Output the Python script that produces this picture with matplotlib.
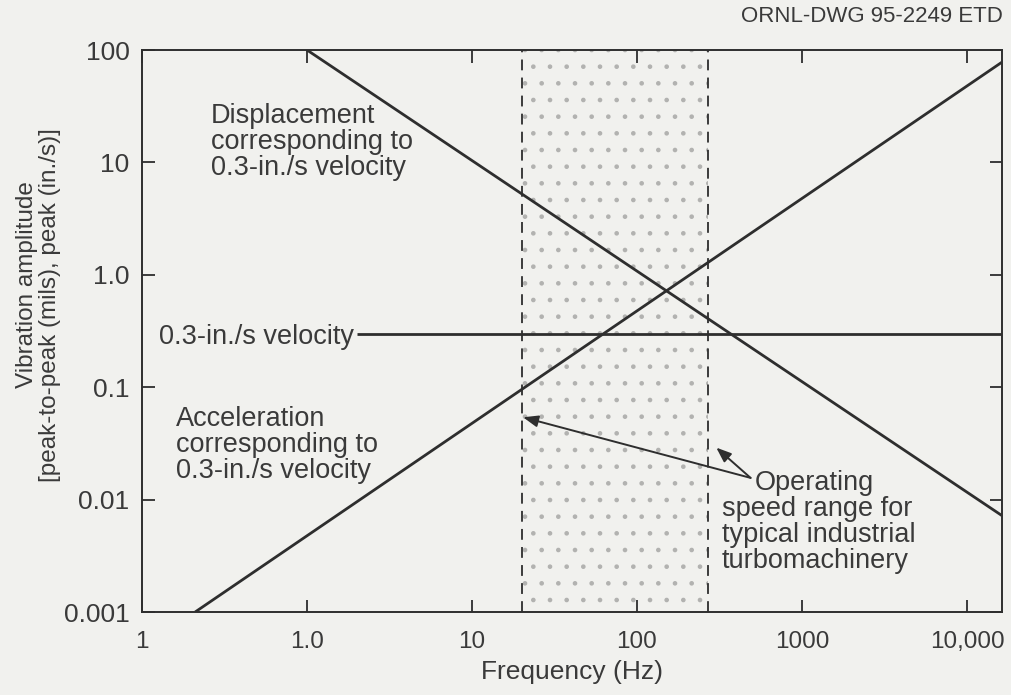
import matplotlib
matplotlib.use("Agg")
import matplotlib.pyplot as plt
from matplotlib.ticker import FixedLocator, FixedFormatter, NullLocator

plt.rcParams['font.family'] = ['Liberation Sans', 'DejaVu Sans']
plt.rcParams['hatch.linewidth'] = 0.9

# Criterion lines: frequency (Hz) endpoints and amplitudes
disp_freq = [1.0, 16300]
disp_amp = [100, 0.0072]
accel_freq = [0.21, 16300]
accel_amp = [0.001, 78]
vel_freq = [2.0, 16300]
vel_amp = [0.3, 0.3]

# Operating speed range of typical industrial turbomachinery (Hz)
speed_range = [20, 270]

x_ticks = [0.1, 1, 10, 100, 1000, 10000]
x_labels = ["1", "1.0", "10", "100", "1000", "10,000"]
y_ticks = [0.001, 0.01, 0.1, 1, 10, 100]
y_labels = ["0.001", "0.01", "0.1", "1.0", "10", "100"]

W, H = 1012, 695
BG = "#f1f1ee"
INK = "#2e2e2e"
TXT = "#3a3a3a"


def fx(px):
    return px / W


def fy(py):
    return 1 - py / H


fig = plt.figure(figsize=(W / 100, H / 100), dpi=100, facecolor=BG)
ax = fig.add_axes([fx(142), fy(612), fx(1002) - fx(142), fy(50) - fy(612)])
ax.set_facecolor(BG)
ax.set_xscale("log")
ax.set_yscale("log")
ax.set_xlim(0.1, 16300)
ax.set_ylim(0.001, 100)

# stippled operating band with dashed boundaries
ax.axvspan(speed_range[0], speed_range[1], facecolor="none", edgecolor="#b2b2b0",
           hatch=".", linewidth=0, zorder=1)
for f in speed_range:
    ax.axvline(f, color=INK, lw=1.3, ls=(0, (6, 4)), zorder=2)

line_kw = dict(color=INK, lw=2.0, solid_capstyle="butt", zorder=3)
ax.plot(disp_freq, disp_amp, **line_kw)
ax.plot(accel_freq, accel_amp, **line_kw)
ax.plot(vel_freq, vel_amp, **line_kw)

# axes styling
for s in ax.spines.values():
    s.set_color(INK)
    s.set_linewidth(1.4)
ax.xaxis.set_major_locator(FixedLocator(x_ticks))
ax.xaxis.set_major_formatter(FixedFormatter(x_labels))
ax.yaxis.set_major_locator(FixedLocator(y_ticks))
ax.yaxis.set_major_formatter(FixedFormatter(y_labels))
ax.xaxis.set_minor_locator(NullLocator())
ax.yaxis.set_minor_locator(NullLocator())
ax.tick_params(which="major", direction="in", top=True, right=True, length=9,
               width=1.3, color=INK, labelcolor=TXT)
ax.tick_params(axis="x", labelsize=17.5, pad=14)
ax.tick_params(axis="y", labelsize=19, pad=9)

ax.set_xlabel("Frequency (Hz)", fontsize=19, color=TXT, labelpad=5)

# two-line y axis title
fig.text(fx(27), fy(285), "Vibration amplitude", rotation=90, ha="center",
         va="center", fontsize=17.5, color=TXT)
fig.text(fx(50), fy(305), "[peak-to-peak (mils), peak (in./s)]", rotation=90,
         ha="center", va="center", fontsize=17.5, color=TXT)

# line labels
txt_kw = dict(fontsize=19.5, color=TXT, linespacing=0.98)
fig.text(fx(211), fy(142), "Displacement\ncorresponding to\n0.3-in./s velocity",
         ha="left", va="center", **txt_kw)
fig.text(fx(176), fy(445), "Acceleration\ncorresponding to\n0.3-in./s velocity",
         ha="left", va="center", **txt_kw)
fig.text(fx(354), fy(337), "0.3-in./s velocity", ha="right", va="center", **txt_kw)
fig.text(fx(755), fy(483), "Operating", ha="left", va="center", **txt_kw)
fig.text(fx(722), fy(535), "speed range for\ntypical industrial\nturbomachinery",
         ha="left", va="center", **txt_kw)

# arrows from the band label to both band edges
tail = (488, 0.0156)
arrow_kw = dict(arrowstyle="-|>,head_length=0.9,head_width=0.35", color=INK,
                lw=1.4, shrinkA=0, shrinkB=0)
ax.annotate("", xy=(speed_range[0] * 1.02, 0.054), xytext=tail,
            arrowprops=arrow_kw, zorder=4)
ax.annotate("", xy=(speed_range[1] * 1.12, 0.029), xytext=tail,
            arrowprops=arrow_kw, zorder=4)

fig.text(fx(1003), fy(16), "ORNL-DWG 95-2249 ETD", ha="right", va="center",
         fontsize=16, color=TXT)

fig.savefig("out.png", dpi=100, facecolor=BG)
